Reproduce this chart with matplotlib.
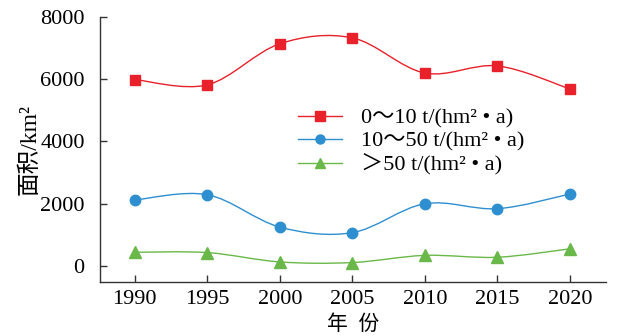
import numpy as np
import matplotlib.pyplot as plt
from matplotlib.path import Path
from matplotlib.patches import PathPatch

plt.rcParams['font.family'] = ['Liberation Serif', 'Noto Sans CJK SC', 'DejaVu Sans']

years = [1990, 1995, 2000, 2005, 2010, 2015, 2020]
low = [5990, 5820, 7140, 7330, 6200, 6430, 5690]
mid = [2120, 2290, 1250, 1070, 2000, 1840, 2310]
high = [440, 430, 130, 110, 340, 280, 550]
labels = ['0～10 t/(hm² • a)', '10～50 t/(hm² • a)', '＞50 t/(hm² • a)']
colors = ['#e8212b', '#2e8fd0', '#6ab84a']
markers = ['s', 'o', '^']
msizes = [7.5, 7.5, 8.5]


def smooth_path(x, y):
  # excel-like smooth line: bezier control points from neighbours
  x = np.asarray(x, float)
  y = np.asarray(y, float)
  verts = [(x[0], y[0])]
  codes = [Path.MOVETO]
  n = len(x)
  for i in range(n - 1):
    p0 = max(i - 1, 0)
    p3 = min(i + 2, n - 1)
    c1 = (x[i] + (x[i + 1] - x[p0]) / 6, y[i] + (y[i + 1] - y[p0]) / 6)
    c2 = (x[i + 1] - (x[p3] - x[i]) / 6, y[i + 1] - (y[p3] - y[i]) / 6)
    verts += [c1, c2, (x[i + 1], y[i + 1])]
    codes += [Path.CURVE4] * 3
  return Path(verts, codes)


fig = plt.figure(figsize=(6.38, 3.36), dpi=100)
ax = fig.add_axes([100 / 638, 1 - 282 / 336, 506 / 638, 265 / 336])

for ys, c, m, ms, lab in zip([low, mid, high], colors, markers, msizes, labels):
  ax.add_patch(PathPatch(smooth_path(years, ys), fill=False, edgecolor=c, lw=1.0))
  ax.plot(years, ys, ls='none', marker=m, ms=ms, color=c)
  ax.plot([], [], color=c, lw=1.0, marker=m, ms=ms - 1, label=lab)

ax.set_xlim(1987.6, 2022.5)
ax.set_ylim(-515, 8000)
ax.set_xticks(years)
ax.set_yticks([0, 2000, 4000, 6000, 8000])
ax.tick_params(direction='in', length=5, width=1, labelsize=16, color='#333333')
ax.tick_params(axis='x', pad=6)
ax.tick_params(axis='y', pad=11)
for s in ['top', 'right']:
  ax.spines[s].set_visible(False)
for s in ['left', 'bottom']:
  ax.spines[s].set_linewidth(1.0)
  ax.spines[s].set_color('#333333')

ax.set_ylabel('面积/km²', fontsize=17, labelpad=0)
ax.set_xlabel('年  份', fontsize=15, labelpad=4)

ax.legend(loc='upper left', bbox_to_anchor=(298 / 638, 1 - 108 / 336),
          bbox_transform=fig.transFigure, frameon=False, fontsize=16,
          handlelength=2.0, handletextpad=0.85, labelspacing=0.12, borderpad=0,
          borderaxespad=0)

fig.savefig('out.png', dpi=100)
